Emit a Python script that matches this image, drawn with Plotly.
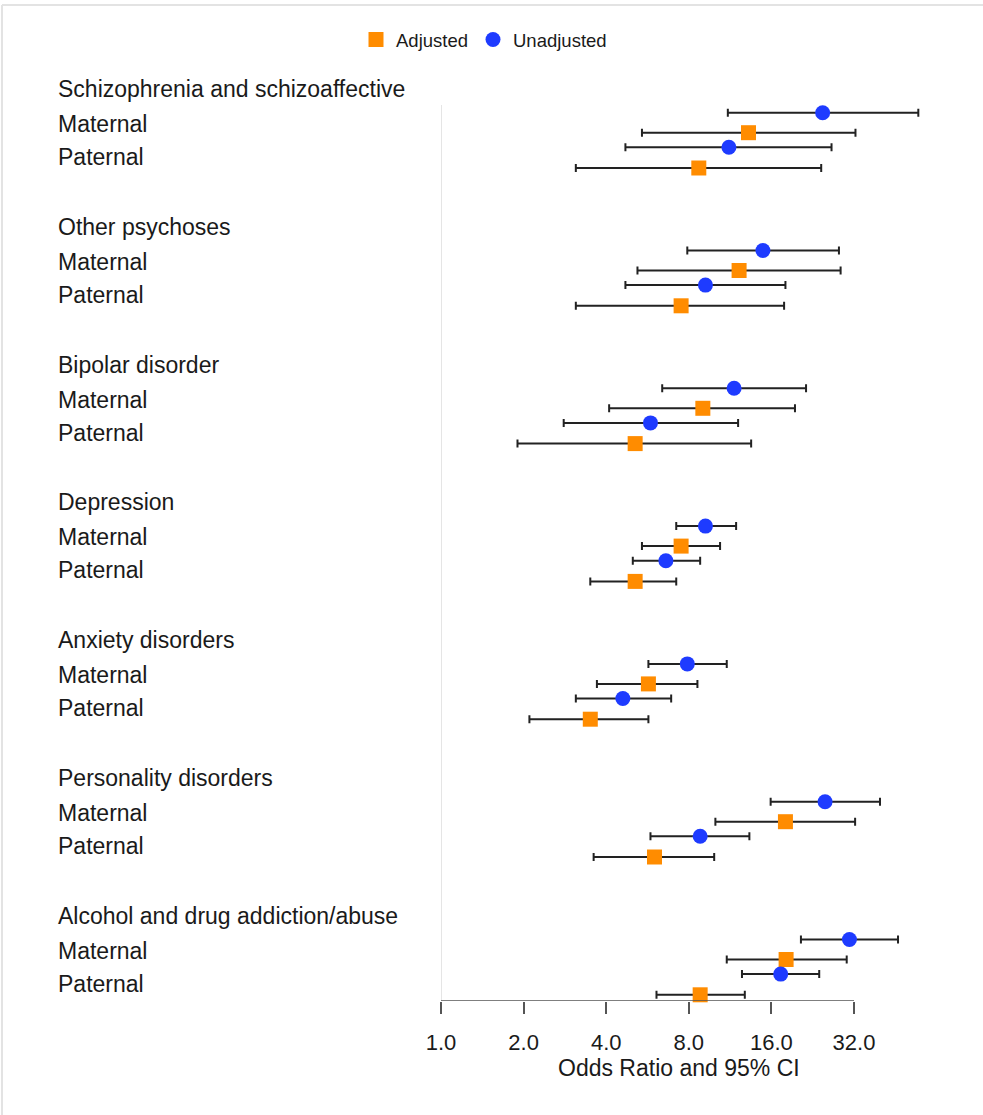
import math
import plotly.graph_objects as go

# ---------------- data ----------------
groups = [
    "Schizophrenia and schizoaffective",
    "Other psychoses",
    "Bipolar disorder",
    "Depression",
    "Anxiety disorders",
    "Personality disorders",
    "Alcohol and drug addiction/abuse",
]

unadj_mat_or = [24.6, 14.9, 11.7, 9.2, 7.9, 25.1, 30.8]
unadj_mat_lo = [11.1, 7.9, 6.4, 7.2, 5.7, 15.9, 20.5]
unadj_mat_hi = [54.9, 28.2, 21.4, 11.9, 11.0, 39.8, 46.3]

adj_mat_or = [13.2, 12.2, 9.0, 7.5, 5.7, 18.0, 18.1]
adj_mat_lo = [5.4, 5.2, 4.1, 5.4, 3.7, 10.0, 11.0]
adj_mat_hi = [32.4, 28.6, 19.5, 10.4, 8.6, 32.3, 30.1]

unadj_pat_or = [11.2, 9.2, 5.8, 6.6, 4.6, 8.8, 17.3]
unadj_pat_lo = [4.7, 4.7, 2.8, 5.0, 3.1, 5.8, 12.5]
unadj_pat_hi = [26.5, 18.0, 12.1, 8.8, 6.9, 13.3, 23.9]

adj_pat_or = [8.7, 7.5, 5.1, 5.1, 3.5, 6.0, 8.8]
adj_pat_lo = [3.1, 3.1, 1.9, 3.5, 2.1, 3.6, 6.1]
adj_pat_hi = [24.3, 17.8, 13.5, 7.2, 5.7, 9.9, 12.8]

tick_vals = [1, 2, 4, 8, 16, 32]
tick_text = ["1.0", "2.0", "4.0", "8.0", "16.0", "32.0"]
sub_labels = ["Maternal", "Paternal"]

# ---------------- layout constants ----------------
W, H = 983, 1115
ML, MR, MT, MB = 441, 40, 60, 114
PW = W - ML - MR
PH = H - MT - MB
PX_PER_DOUBLING = 82.6
x_max_log10 = (PW / PX_PER_DOUBLING) * math.log10(2)

Y_TOP = MT
Y_BOT = H - MB
G0 = 89.0
PITCH = 137.8
OFF = {"head": 0.0, "um": 23.7, "am": 43.7, "up": 58.3, "ap": 79.0,
       "mat": 35.0, "pat": 68.0}

ORANGE = "#FF8C00"
BLUE = "#1E3BFF"
FONT = "Helvetica, Liberation Sans, Arial, sans-serif"
TXT = "#1a1a1a"
LBL_SIZE = 23


def gy(i, key):
    return G0 + PITCH * i + OFF[key]


def xpaper(px):
    return (px - ML) / PW


def ypaper(py):
    return (H - MB - py) / PH


n = len(groups)

adj_x = adj_mat_or + adj_pat_or
adj_lo = adj_mat_lo + adj_pat_lo
adj_hi = adj_mat_hi + adj_pat_hi
adj_y = [gy(i, "am") for i in range(n)] + [gy(i, "ap") for i in range(n)]

un_x = unadj_mat_or + unadj_pat_or
un_lo = unadj_mat_lo + unadj_pat_lo
un_hi = unadj_mat_hi + unadj_pat_hi
un_y = [gy(i, "um") for i in range(n)] + [gy(i, "up") for i in range(n)]

err_style = dict(type="data", symmetric=False, color="#222222", thickness=2, width=4)

fig = go.Figure()
fig.add_trace(go.Scatter(
    x=adj_x, y=adj_y, mode="markers", name="Adjusted",
    marker=dict(symbol="square", size=15, color=ORANGE, line=dict(width=0)),
    error_x=dict(array=[h - v for h, v in zip(adj_hi, adj_x)],
                 arrayminus=[v - l for v, l in zip(adj_x, adj_lo)], **err_style),
    cliponaxis=False,
))
fig.add_trace(go.Scatter(
    x=un_x, y=un_y, mode="markers", name="Unadjusted",
    marker=dict(symbol="circle", size=15, color=BLUE, line=dict(width=0)),
    error_x=dict(array=[h - v for h, v in zip(un_hi, un_x)],
                 arrayminus=[v - l for v, l in zip(un_x, un_lo)], **err_style),
    cliponaxis=False,
))

annotations = []
for i, g in enumerate(groups):
    for key, txt in (("head", g), ("mat", sub_labels[0]), ("pat", sub_labels[1])):
        annotations.append(dict(x=xpaper(56), xref="paper", y=gy(i, key), yref="y",
                                text=txt, showarrow=False, xanchor="left", yanchor="middle",
                                font=dict(size=LBL_SIZE, color=TXT, family=FONT)))

annotations.append(dict(x=xpaper(679), xref="paper", y=ypaper(1068), yref="paper",
                        text="Odds Ratio and 95% CI", showarrow=False,
                        xanchor="center", yanchor="middle",
                        font=dict(size=LBL_SIZE, color=TXT, family=FONT)))

shapes = [
    dict(type="line", xref="x", yref="y", x0=1, x1=1, y0=105, y1=Y_BOT,
         line=dict(color="#cccccc", width=1)),
    dict(type="line", xref="x", yref="y", x0=tick_vals[0], x1=tick_vals[-1],
         y0=Y_BOT, y1=Y_BOT, line=dict(color="#555555", width=1.5)),
    dict(type="line", xref="paper", yref="paper", x0=xpaper(2), x1=xpaper(W + 5),
         y0=ypaper(5), y1=ypaper(5), line=dict(color="#e3e3e3", width=2)),
    dict(type="line", xref="paper", yref="paper", x0=xpaper(2), x1=xpaper(2),
         y0=ypaper(5), y1=ypaper(H + 5), line=dict(color="#e3e3e3", width=2)),
]

fig.update_layout(
    width=W, height=H,
    margin=dict(l=ML, r=MR, t=MT, b=MB, pad=0),
    paper_bgcolor="white", plot_bgcolor="white",
    font=dict(family=FONT, color=TXT),
    showlegend=True,
    legend=dict(orientation="h", x=xpaper(484), xanchor="center",
                y=ypaper(40), yanchor="middle", font=dict(size=18.5, color=TXT),
                bgcolor="rgba(0,0,0,0)", itemwidth=30),
    xaxis=dict(type="log", range=[0, x_max_log10], showgrid=False, zeroline=False,
               showline=False, tickmode="array", tickvals=tick_vals, ticktext=tick_text,
               ticks="outside", ticklen=12, tickwidth=1.5, tickcolor="#555555",
               tickfont=dict(size=22, color=TXT, family=FONT), ticklabelstandoff=10),
    yaxis=dict(range=[Y_BOT, Y_TOP], showgrid=False, zeroline=False, showline=False,
               showticklabels=False, ticks=""),
    annotations=annotations,
    shapes=shapes,
)

fig.write_html("out.html", config={"displayModeBar": False},
               post_script="document.body.style.margin='0';document.body.style.overflow='hidden';")
